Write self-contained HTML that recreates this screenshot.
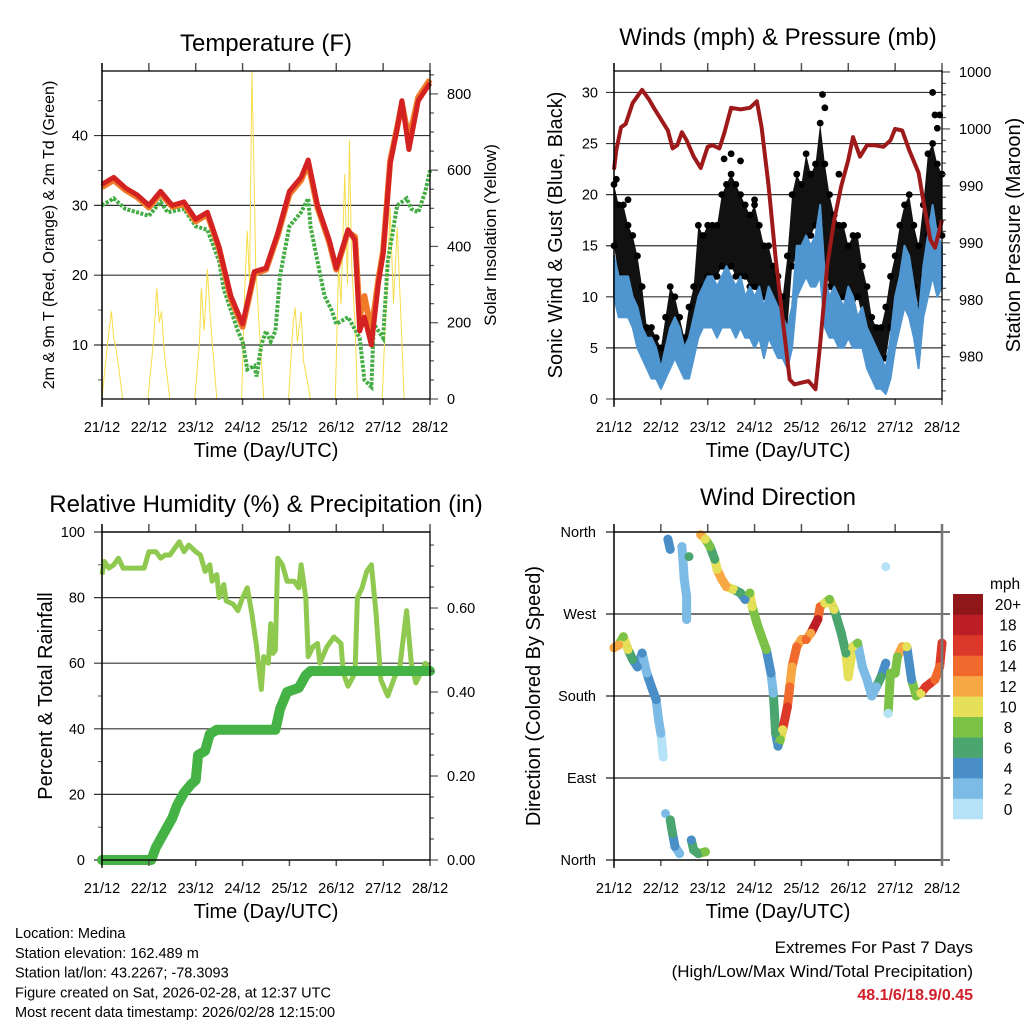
<!DOCTYPE html>
<html><head><meta charset="utf-8"><style>
html,body{margin:0;padding:0;background:#fff}
svg{display:block;font-family:"Liberation Sans",sans-serif}
</style></head><body>
<svg id="svg" width="1024" height="1024" viewBox="0 0 1024 1024" xmlns="http://www.w3.org/2000/svg">
<g id="root"></g>
</svg>
<script>
// ---------- data ----------
const dayLabels = ["21/12","22/12","23/12","24/12","25/12","26/12","27/12","28/12"];
// Temperature
const tTime = [0,0.25,0.5,0.75,1.0,1.25,1.5,1.75,2.0,2.25,2.5,2.75,3.0,3.25,3.5,3.75,4.0,4.25,4.4,4.6,4.85,5.0,5.25,5.4,5.5,5.6,5.75,5.9,6.0,6.15,6.3,6.4,6.55,6.75,7.0];
const t2m = [33,34,32.5,31.5,30,32,30,30.5,28,29,24,17,13,20.5,21,26,32,34,36.5,30,25,21,26.5,25,12,14,10,19,23,36,41,45,38,45,47.5];
const t9m = [32.6,33.6,32.2,31.2,29.7,31.7,29.8,30.2,27.7,28.7,23.8,16.6,12.6,20.2,20.8,25.7,31.6,33.6,36,29.7,24.7,20.8,26.2,25.5,14,17,12,19.5,23.4,36.4,41.2,44.6,39.5,45.5,48];
const tdTime = [0,0.25,0.5,0.75,1.0,1.25,1.4,1.75,2.0,2.25,2.5,2.6,2.9,3.0,3.1,3.25,3.3,3.4,3.5,3.6,3.7,3.8,4.0,4.25,4.4,4.45,4.6,4.75,4.9,5.0,5.25,5.5,5.6,5.75,5.8,6.0,6.1,6.3,6.5,6.6,6.75,6.9,7.0];
const td2m = [30,31,29.5,29,28.5,30.5,29,29.5,27,26.5,22,18,12,10.5,6.5,7,5.5,10,12,10.5,12,20,27,29,31,27,22,17,15,13,14,11,5,4,13,11,22,30,31,29.5,29,32,35];
const solTime = [0,0.08,0.14,0.2,0.25,0.3,0.36,0.44, 0.98,1.1,1.17,1.22,1.27,1.33,1.45, 1.98,2.08,2.12,2.18,2.25,2.3,2.37,2.45, 2.98,3.05,3.1,3.15,3.2,3.24,3.28,3.35,3.45, 3.98,4.08,4.12,4.17,4.25,4.3,4.38,4.45, 4.98,5.05,5.1,5.18,5.24,5.28,5.33,5.4,5.45, 5.98,6.08,6.15,6.22,6.3,6.4,6.45,7.0];
const solVal = [0,100,170,230,160,130,80,0, 0,150,290,200,230,120,0, 0,150,290,180,340,230,120,0, 0,300,440,300,860,620,350,200,0, 0,200,240,150,230,100,50,0, 0,350,250,590,300,680,350,200,0, 0,300,500,250,450,150,0,0];
// Winds
const wTime = [0,0.1,0.2,0.3,0.4,0.5,0.6,0.7,0.8,0.9,1.0,1.1,1.2,1.3,1.4,1.5,1.6,1.7,1.8,1.9,2.0,2.1,2.2,2.3,2.4,2.5,2.6,2.7,2.8,2.9,3.0,3.1,3.2,3.3,3.4,3.5,3.6,3.7,3.8,3.9,4.0,4.1,4.2,4.3,4.4,4.5,4.6,4.7,4.8,4.9,5.0,5.1,5.2,5.3,5.4,5.5,5.6,5.7,5.8,5.9,6.0,6.1,6.2,6.3,6.4,6.5,6.6,6.7,6.8,6.9,7.0];
const windLo = [10,8,8,8,7,5,4,3,2,2,1,2,3,4,3,2,2,4,6,7,7,7,6,7,7,7,6,7,6,6,5,6,4,6,5,4,4,3,5,10,11,12,11,11,12,7,6,6,5,5,6,5,5,5,3,2,1,1,0.5,2,5,7,9,8,6,3,8,10,12,10,11];
const windHi = [14,12,12,12,10,9,7,6,6,5,3,5,7,8,7,5,6,8,10,11,12,12,11,12,13,12,11,12,10,11,10,11,9,11,10,9,8,7,9,15,15,16,15,16,19,12,10,11,10,9,11,10,8,9,7,6,5,4,3,6,10,12,15,14,11,8,13,16,19,16,15];
const gustLo = [15,12,11,11,9,8,6,5,4,4,2,4,6,6,5,3,5,7,9,11,12,11,12,13,12,13,12,12,12,11,11,10,10,9,8,7,5,7,13,14,14,15,16,17,17,13,11,10,9,10,9,9,10,8,6,5,4,3,4,7,9,10,13,13,11,9,12,16,17,17,16];
const gustHi = [21,19,19,17,16,14,11,7,7,6,5,8,11,10,8,6,9,11,17,16,17,17,17,20,21,22,21,20,19,18,19,17,15,15,13,12,10,14,20,22,21,24,22,23,27,23,20,18,17,17,15,16,16,13,11,8,7,7,9,12,14,17,19,20,17,15,19,24,25,23,22];
const gustOutT = [0.05,0.3,2.5,2.35,2.7,3.0,4.45,4.5,4.8,6.8,6.85,6.95,6.9];
const gustOutV = [21.5,19.5,24,23.5,23.3,19.5,29.8,28.5,22,30,27.8,27.8,26.5];
const pTime = [0,0.05,0.15,0.25,0.4,0.6,0.75,0.85,1.0,1.15,1.25,1.35,1.45,1.55,1.7,1.85,2.0,2.1,2.25,2.35,2.5,2.7,2.9,3.05,3.15,3.3,3.45,3.6,3.75,3.85,4.0,4.15,4.3,4.4,4.55,4.7,4.85,5.0,5.1,5.25,5.4,5.55,5.75,5.9,6.0,6.15,6.3,6.5,6.6,6.75,6.85,7.0];
const pVal = [995.5,996.7,998.1,998.3,999.6,1000.4,999.8,999.3,998.6,997.9,996.8,997.0,997.8,997.3,996.3,995.6,996.9,997.0,996.8,997.7,999.3,999.2,999.3,999.7,998.1,994.5,990.0,986.3,982.6,982.3,982.4,982.5,982.0,984.8,989.6,992.4,994.5,996.1,997.5,996.3,997.0,997.0,996.9,997.3,998.0,997.9,996.7,995.3,993.6,991.2,990.7,992.4];
const pTicks = [1001.5,998,994.5,991,987.5,984];
const pTickLabels = ["1000","1000","990","990","980","980"];
// RH & Precip
const rhTime = [0,0.05,0.15,0.25,0.35,0.45,0.6,0.8,0.9,1.0,1.15,1.25,1.35,1.45,1.6,1.65,1.75,1.85,2.0,2.1,2.2,2.3,2.35,2.45,2.5,2.6,2.65,2.8,2.9,3.0,3.1,3.2,3.3,3.35,3.4,3.45,3.55,3.6,3.65,3.7,3.75,3.85,3.95,4.1,4.2,4.25,4.35,4.4,4.5,4.6,4.65,4.8,4.95,5.1,5.15,5.25,5.4,5.45,5.55,5.65,5.75,5.85,5.95,6.1,6.25,6.35,6.45,6.5,6.6,6.7,6.8,6.9,7.0];
const rhVal = [87,91,89,90,92,89,89,89,89,94,94,92,93,93,96,97,94,96,94,93,88,90,85,87,80,84,79,78,76,80,83,75,65,58,52,62,60,72,63,64,92,90,85,85,83,90,80,62,65,66,60,65,68,66,57,53,57,80,83,88,90,75,55,50,56,58,70,76,60,54,57,60,58];
const prTime = [0,1.0,1.05,1.15,1.3,1.5,1.6,1.75,1.9,2.0,2.05,2.2,2.3,2.45,3.0,3.7,3.8,3.95,4.2,4.35,4.45,7.0];
const prVal = [0,0,0,0.03,0.06,0.1,0.13,0.16,0.18,0.19,0.25,0.26,0.3,0.31,0.31,0.31,0.36,0.4,0.41,0.44,0.45,0.45];
// Wind direction
const dTime = [0,0.1,0.2,0.3,0.4,0.5,0.6,0.7,0.8,0.9,0.95,1.0,1.05,1.1,1.15,1.2,1.2,1.25,1.3,1.4,1.45,1.5,1.55,1.55,1.6,1.65,1.7,1.8,1.95,1.85,1.95,2.05,2.15,2.2,2.3,2.4,2.55,2.7,2.8,2.9,2.95,3.05,3.15,3.25,3.35,3.4,3.45,3.5,3.55,3.6,3.7,3.75,3.8,3.9,4.0,4.1,4.2,4.35,4.4,4.5,4.6,4.7,4.85,4.95,5.0,5.1,5.2,5.3,5.4,5.5,5.6,5.7,5.8,5.8,5.85,5.9,6.0,6.05,6.15,6.25,6.35,6.45,6.55,6.65,6.75,6.85,6.95,7.0];
const dDeg = [233,236,245,231,220,212,227,205,190,176,154,139,113,51,352,341,44,29,15,7,344,308,289,264,333,22,11,7,9,357,352,344,330,319,308,300,297,293,286,293,278,260,245,231,205,183,139,125,132,143,168,190,212,234,242,242,249,264,278,282,286,275,249,227,201,234,238,212,198,180,190,201,216,322,161,205,205,223,234,234,198,180,183,190,194,198,212,238];
const dSpd = [12,13,9,10,6,5,4,3,4,4,3,2,1,2,4,4,6,6,4,3,2,2,2,2,6,4,6,6,9,12,10,9,7,10,12,12,10,6,4,8,10,8,9,8,4,2,6,4,8,10,16,14,12,14,12,14,12,18,14,10,8,10,6,6,10,10,8,2,2,3,3,6,4,0,1,8,8,8,12,10,4,8,10,16,16,14,14,16];
const cbLabels = ["0","2","4","6","8","10","12","14","16","18","20+"];
const cbColors = ["#b5e2f6","#7cbbe5","#4a8ec8","#4aa56f","#7bc246","#e6e059","#f7a743","#ef6a2c","#dc382a","#bc1e25","#8f1719"];

// ---------- helpers ----------
const NS="http://www.w3.org/2000/svg";
const root=document.getElementById('root');
function el(tag,attrs,parent,text){const e=document.createElementNS(NS,tag);for(const k in attrs)e.setAttribute(k,attrs[k]);if(text!==undefined)e.textContent=text;(parent||root).appendChild(e);return e;}
function grp(name){const g=document.createElementNS(NS,'g');


root.appendChild(g);return g;}
const X0=102,X1=430,X0r=614,X1r=942;
const TY0=71,TY1=399,BY0=532,BY1=860;
function xs(base){return d=>base+(d/7)*(328);}
function lin(d0,d1,r0,r1){return v=>r0+(v-d0)/(d1-d0)*(r1-r0);}
function poly(pts){return pts.map(p=>p[0].toFixed(1)+","+p[1].toFixed(1)).join(" ");}

function frame(g,x0,x1,y0,y1){
  const sx=xs(x0);
  for(let i=0;i<8;i++){const x=sx(i);
    el('line',{x1:x,y1:y0-8,x2:x,y2:y0,stroke:'#555','stroke-width':1.5},g);
    el('line',{x1:x,y1:y1,x2:x,y2:y1+6,stroke:'#555','stroke-width':1.5},g);
    const t=el('text',{x:x,y:y1+33,'font-size':14.5,'text-anchor':'middle',fill:'#000'},g,dayLabels[i]);
    
    
  }
  el('rect',{x:x0,y:y0,width:x1-x0,height:y1-y0,fill:'none',stroke:'#000','stroke-width':1.3},g);
  el('line',{x1:x0,y1:y0-8,x2:x0,y2:y1+8,stroke:'#000','stroke-width':1.3},g);
  const tt=el('text',{x:(x0+x1)/2,y:y1+58,'font-size':20,'text-anchor':'middle'},g,'Time (Day/UTC)');
  
  
}
function hgrid(g,y,x0,x1){el('line',{x1:x0-8,y1:y,x2:x1,y2:y,stroke:'#333','stroke-width':1.2},g);}
function leftLabel(g,x,y,txt,fs){const t=el('text',{x:x,y:y+5,'font-size':fs||14.5,'text-anchor':'end'},g,txt);

}
function rightTick(g,x,y,txt,len){el('line',{x1:x,y1:y,x2:x+(len||8),y2:y,stroke:'#555','stroke-width':1.2},g);
if(txt!==null){const t=el('text',{x:x+17,y:y+5,'font-size':14.5},g,txt);

}}
function vtitle(g,x,y,txt,fs,name){const t=el('text',{x:0,y:0,'font-size':fs,'text-anchor':'middle',transform:`translate(${x},${y}) rotate(-90)`},g,txt);

}
function title(g,x,y,txt,name){const t=el('text',{x:x,y:y,'font-size':24,'text-anchor':'middle'},g,txt);

}

// ---------- Temperature panel ----------
(function(){
  const g=grp('temperature-panel');
  const sx=xs(X0), sy=lin(2.26,49.25,TY1,TY0), ss=lin(0,860,TY1,TY0);
  title(g,266,51,'Temperature (F)','temperature-title');
  [10,20,30,40].forEach(v=>{hgrid(g,sy(v),X0,X1);leftLabel(g,88,sy(v),String(v));});
  [5,15,25,35,45].forEach(v=>el('line',{x1:X0-4,y1:sy(v),x2:X0,y2:sy(v),stroke:'#555'},g));
  const sol=el('polyline',{points:poly(solTime.map((t,i)=>[sx(t),ss(solVal[i])])),fill:'none',stroke:'#f7dd4a','stroke-width':1},g);
  
  
  const td=el('polyline',{points:poly(tdTime.map((t,i)=>[sx(t),sy(td2m[i])])),fill:'none',stroke:'#43ac43','stroke-width':4,'stroke-dasharray':'3 1.5'},g);
  
  
  const o=el('polyline',{points:poly(tTime.map((t,i)=>[sx(t),sy(t9m[i])])),fill:'none',stroke:'#f07a2a','stroke-width':6,'stroke-linejoin':'round'},g);
  
  
  const r=el('polyline',{points:poly(tTime.map((t,i)=>[sx(t),sy(t2m[i])])),fill:'none',stroke:'#d42222','stroke-width':5,'stroke-linejoin':'round'},g);
  
  
  [0,200,400,600,800].forEach(v=>rightTick(g,X1,ss(v),String(v)));
  for(let v=50;v<860;v+=50){if(v%200)rightTick(g,X1,ss(v),null,4);}
  frame(g,X0,X1,TY0,TY1);
  vtitle(g,54,235,'2m & 9m T (Red, Orange) & 2m Td (Green)',16,'temperature-y-title');
  vtitle(g,496,235,'Solar Insolation (Yellow)',17,'solar-y-title');
})();

// ---------- Winds panel ----------
(function(){
  const g=grp('winds-panel');
  const sx=xs(X0r), sy=lin(0,32.1,TY1,TY0), sp=lin(981.4,1001.56,TY1,TY0);
  title(g,778,45,'Winds (mph) & Pressure (mb)','winds-title');
  [0,5,10,15,20,25,30].forEach(v=>{if(v>0)hgrid(g,sy(v),X0r,X1r);else el('line',{x1:X0r-8,y1:sy(0),x2:X0r,y2:sy(0),stroke:'#333'},g);leftLabel(g,598,sy(v),String(v));});
  const band=gustHi.map((v,i)=>[sx(wTime[i]),sy(v)]).concat(gustLo.map((v,i)=>[sx(wTime[i]),sy(v)]).reverse());
  const gb=el('polygon',{points:poly(band),fill:'#111'},g);
  
  
  wTime.forEach((t,i)=>{[gustHi[i],gustLo[i]].forEach(v=>{const c=el('circle',{cx:sx(t),cy:sy(v),r:3.4,fill:'#000'},g);
  
  });});
  gustOutT.forEach((t,i)=>{const c=el('circle',{cx:sx(t),cy:sy(gustOutV[i]),r:3.4,fill:'#000'},g);
  
  });
  const wb=windHi.map((v,i)=>[sx(wTime[i]),sy(v)]).concat(windLo.map((v,i)=>[sx(wTime[i]),sy(v)]).reverse());
  const w=el('polygon',{points:poly(wb),fill:'#4f95d0',stroke:'#4f95d0','stroke-width':2,'stroke-linejoin':'round'},g);
  
  
  const p=el('polyline',{points:poly(pTime.map((t,i)=>[sx(t),sp(pVal[i])])),fill:'none',stroke:'#9e1a1a','stroke-width':4,'stroke-linejoin':'round'},g);
  
  
  pTicks.forEach((v,i)=>rightTick(g,X1r,sp(v),pTickLabels[i]));
  for(let k=0;k<30;k++){const v=1001.5-k*0.7;if(v<981.5)break;if(k%5)rightTick(g,X1r,sp(v),null,4);}
  frame(g,X0r,X1r,TY0,TY1);
  vtitle(g,562,235,'Sonic Wind & Gust (Blue, Black)',20,'wind-y-title');
  vtitle(g,1020,235,'Station Pressure (Maroon)',20,'pressure-y-title');
})();

// ---------- RH panel ----------
(function(){
  const g=grp('humidity-precip-panel');
  const sx=xs(X0), sy=lin(0,100,BY1,BY0), spr=lin(0,0.781,BY1,BY0);
  title(g,266,512,'Relative Humidity (%) & Precipitation (in)','humidity-title');
  [0,20,40,60,80,100].forEach(v=>{hgrid(g,sy(v),X0,X1);leftLabel(g,85,sy(v),String(v));});
  [10,30,50,70,90].forEach(v=>el('line',{x1:X0-4,y1:sy(v),x2:X0,y2:sy(v),stroke:'#555'},g));
  const rh=el('polyline',{points:poly(rhTime.map((t,i)=>[sx(t),sy(rhVal[i])])),fill:'none',stroke:'#8fc94f','stroke-width':5,'stroke-linejoin':'round'},g);
  
  
  const pr=el('polyline',{points:poly(prTime.map((t,i)=>[sx(t),spr(prVal[i])])),fill:'none',stroke:'#45b245','stroke-width':10,'stroke-linejoin':'round','stroke-linecap':'round'},g);
  
  
  [0,0.2,0.4,0.6].forEach(v=>rightTick(g,X1,spr(v),v.toFixed(2)));
  for(let k=1;k<16;k++){const v=k*0.05;if(k%4)rightTick(g,X1,spr(v),null,4);}
  frame(g,X0,X1,BY0,BY1);
  vtitle(g,52,696,'Percent & Total Rainfall',20,'humidity-y-title');
})();

// ---------- Wind direction panel ----------
(function(){
  const g=grp('wind-direction-panel');
  const sx=xs(X0r), sy=lin(0,360,BY1,BY0);
  title(g,778,505,'Wind Direction','wind-direction-title');
  const dl=[[360,'North'],[270,'West'],[180,'South'],[90,'East'],[0,'North']];
  dl.forEach(d=>{el('line',{x1:X0r-8,y1:sy(d[0]),x2:950,y2:sy(d[0]),stroke:'#222','stroke-width':1.2},g);leftLabel(g,596,sy(d[0]),d[1],14.5);});
  const col=s=>cbColors[Math.min(10,Math.floor(s/2))];
  for(let i=1;i<dTime.length;i++){
    if(Math.abs(dDeg[i]-dDeg[i-1])<60 && dTime[i]-dTime[i-1]<0.2 && dTime[i]>=dTime[i-1]){
      const s=el('line',{x1:sx(dTime[i-1]),y1:sy(dDeg[i-1]),x2:sx(dTime[i]),y2:sy(dDeg[i]),stroke:col(dSpd[i]),'stroke-width':9,'stroke-linecap':'round'},g);
      
      
    }
  }
  dTime.forEach((t,i)=>{const c=el('circle',{cx:sx(t),cy:sy(dDeg[i]),r:4.5,fill:col(dSpd[i])},g);
  
  });
  frame(g,X0r,X1r,BY0,BY1);
  el('line',{x1:X1r,y1:BY0-8,x2:X1r,y2:BY1+6,stroke:'#777','stroke-width':2.5},g);
  vtitle(g,540,696,'Direction (Colored By Speed)',20,'direction-y-title');
  const cb=grp('speed-colorbar');
  const h=(819-594)/11;
  cbColors.forEach((c,i)=>{const r=el('rect',{x:953,y:819-(i+1)*h,width:30,height:h+0.3,fill:c},cb);
  
  
  const t=el('text',{x:1008,y:819-(i+0.5)*h+6,'font-size':15.5,'text-anchor':'middle'},cb,cbLabels[i]);
  
  });
  const m=el('text',{x:990,y:589,'font-size':15.5},cb,'mph');
  
  
})();

// ---------- footer ----------
(function(){
  const g=grp('station-info');
  const lines=["Location: Medina","Station elevation: 162.489 m","Station lat/lon: 43.2267; -78.3093","Figure created on Sat, 2026-02-28, at 12:37 UTC","Most recent data timestamp: 2026/02/28 12:15:00"];
  lines.forEach((s,i)=>{const t=el('text',{x:15,y:938+i*19.8,'font-size':14.5},g,s);
  
  });
  const e=grp('extremes-text');
  const a=el('text',{x:973,y:953,'font-size':17,'text-anchor':'end'},e,'Extremes For Past 7 Days');
  
  
  const b=el('text',{x:973,y:977,'font-size':17,'text-anchor':'end'},e,'(High/Low/Max Wind/Total Precipitation)');
  
  
  const c=el('text',{x:973,y:1000,'font-size':16,'font-weight':'bold','text-anchor':'end',fill:'#d0202a'},e,'48.1/6/18.9/0.45');
  
  
})();
</script>
</body></html>
